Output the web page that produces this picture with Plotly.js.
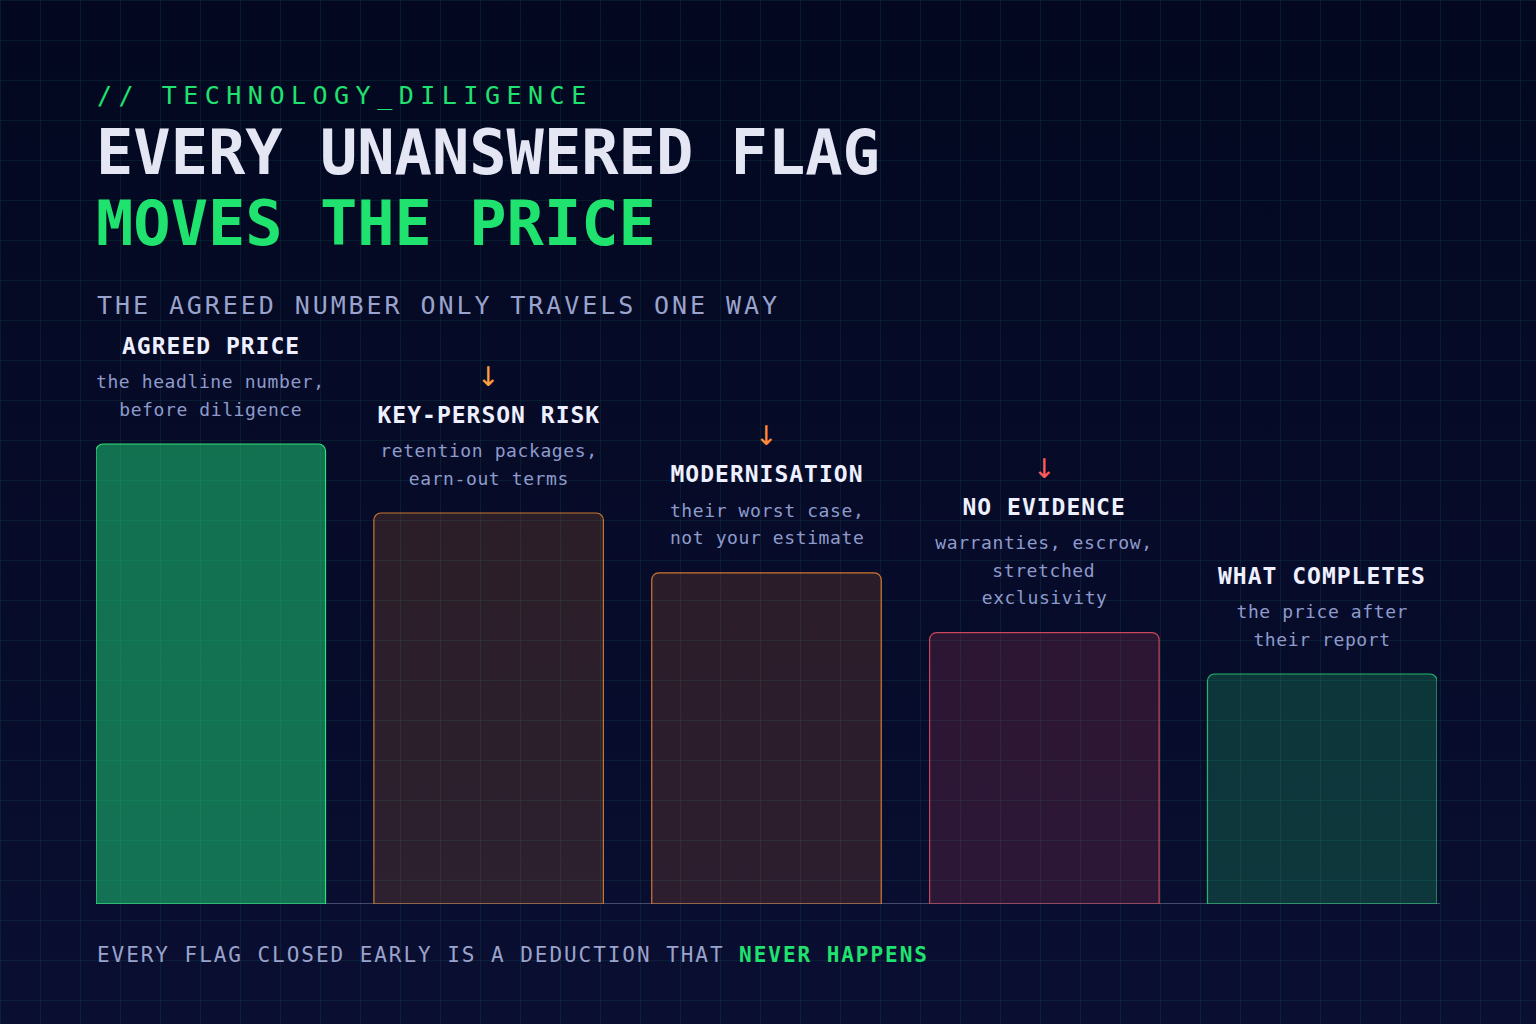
<!DOCTYPE html>
<html><head><meta charset="utf-8">
<script src="https://cdn.plot.ly/plotly-3.0.1.min.js"></script>
<style>
html,body{margin:0;padding:0;width:1536px;height:1024px;overflow:hidden;}
body{background-color:#050a26;
background-image:
 linear-gradient(to right, rgba(30,190,140,0.10) 1px, transparent 1px),
 linear-gradient(to bottom, rgba(30,190,140,0.10) 1px, transparent 1px),
 linear-gradient(to bottom, #030820 0%, #0a0e31 100%);
background-size:40px 40px,40px 40px,100% 100%;}
#chart{width:1536px;height:1024px;}
</style>
</head><body>
<div id="chart"></div>
<script>
// ---- data ----
const categories = ['AGREED PRICE', 'KEY-PERSON RISK', 'MODERNISATION', 'NO EVIDENCE', 'WHAT COMPLETES'];
const values = [100, 85, 72, 59, 50];
const notes = [
  ['the headline number,', 'before diligence'],
  ['retention packages,', 'earn-out terms'],
  ['their worst case,', 'not your estimate'],
  ['warranties, escrow,', 'stretched', 'exclusivity'],
  ['the price after', 'their report']
];
const deductionMarker = ['', '↓', '↓', '↓', ''];
const eyebrow = '// TECHNOLOGY_DILIGENCE';
const headline1 = 'EVERY UNANSWERED FLAG';
const headline2 = 'MOVES THE PRICE';
const subhead = 'THE AGREED NUMBER ONLY TRAVELS ONE WAY';
const footerA = 'EVERY FLAG CLOSED EARLY IS A DEDUCTION THAT ';
const footerB = 'NEVER HAPPENS';

// ---- styles ----
const FONT = '"DejaVu Sans Mono", "Liberation Mono", monospace';
const ARROWFONT = '"DejaVu Sans", "Noto Sans", sans-serif';
const GREEN = '#1fe26f';
const fills = ['rgba(30,215,120,0.50)', 'rgba(255,140,50,0.15)', 'rgba(255,130,50,0.15)', 'rgba(255,80,100,0.15)', 'rgba(34,224,122,0.20)'];
const borders = ['#2ee27a', '#c8782e', '#d0762e', '#c8485a', '#22b865'];
const arrowColors = ['', '#ffa040', '#ff8a3a', '#ff5c5c', ''];

const L = 96, R = 1437, T = 100, B = 904;
const px = x => (x - L) / (R - L);
const py = y => (B - y) / (B - T);
const ymax = (B - T) / (B - 444) * values[0];

const anns = [];
const spacing = [];
function add(a, ls) { anns.push(a); spacing.push(ls || 0); }

function hdr(text, x, y, size, color, bold, ls) {
  add({text: text, xref: 'paper', yref: 'paper', x: px(x), y: py(y), xanchor: 'left', yanchor: 'middle',
       align: 'left', showarrow: false, borderpad: 0,
       font: {family: FONT, size: size, color: color, weight: bold ? 'bold' : 'normal'}}, ls);
}
hdr(eyebrow, 96, 96, 25, GREEN, false, 6.5);
hdr(headline1, 95, 153, 62, '#e4e6f4', true, 0);
hdr(headline2, 95, 224, 62, GREEN, true, 0);
hdr(subhead, 96, 305, 25, '#9aa3cc', false, 2.92);
hdr(footerA + '<span style="color:' + GREEN + '"><b>' + footerB + '</b></span>', 96, 955, 21, '#9aa3cc', false, 1.95);

categories.forEach((c, i) => {
  const n = notes[i].length;
  notes[i].forEach((line, k) => {
    add({text: line, x: i, y: values[i], xref: 'x', yref: 'y', xanchor: 'center', yanchor: 'middle',
         yshift: 35 + (n - 1 - k) * 27.5, showarrow: false, borderpad: 0,
         font: {family: FONT, size: 18, color: '#8e9bcc'}}, 0.6);
  });
  const titleShift = 35 + (n - 1) * 27.5 + 36;
  add({text: c, x: i, y: values[i], xref: 'x', yref: 'y', xanchor: 'center', yanchor: 'middle',
       yshift: titleShift, showarrow: false, borderpad: 0,
       font: {family: FONT, size: 23, color: '#eef0ff', weight: 'bold'}}, 1.0);
  if (deductionMarker[i]) {
    add({text: deductionMarker[i], x: i, y: values[i], xref: 'x', yref: 'y', xanchor: 'center', yanchor: 'middle',
         yshift: titleShift + 38.5, showarrow: false, borderpad: 0,
         font: {family: ARROWFONT, size: 27, color: arrowColors[i]}}, 0);
  }
});

// letter spacing rules
let css = '';
spacing.forEach((s, i) => { if (s) css += '.annotation[data-index="' + i + '"] text{letter-spacing:' + s + 'px;}\n'; });
const st = document.createElement('style'); st.textContent = css; document.head.appendChild(st);

const trace = {
  type: 'bar', x: [0, 1, 2, 3, 4], y: values, width: 0.826,
  marker: {color: fills, line: {color: borders, width: 1.2}, cornerradius: 7},
  hoverinfo: 'skip', text: categories, textposition: 'none'
};

const layout = {
  width: 1536, height: 1024,
  margin: {l: L, r: 1536 - R, t: T, b: 1024 - B, pad: 0},
  paper_bgcolor: 'rgba(0,0,0,0)', plot_bgcolor: 'rgba(0,0,0,0)',
  showlegend: false,
  xaxis: {range: [-0.413, 4.413], showgrid: false, zeroline: false, showticklabels: false, ticks: '', showline: false, fixedrange: true},
  yaxis: {range: [0, ymax], showgrid: false, zeroline: false, showticklabels: false, ticks: '', showline: false, fixedrange: true},
  shapes: [{type: 'line', xref: 'paper', yref: 'y', x0: 0, x1: (1440 - L) / (R - L), y0: 0, y1: 0,
            line: {color: '#454a6d', width: 2}, layer: 'below'}],
  annotations: anns
};

Plotly.newPlot('chart', [trace], layout, {displayModeBar: false, staticPlot: true});
</script>
</body></html>
